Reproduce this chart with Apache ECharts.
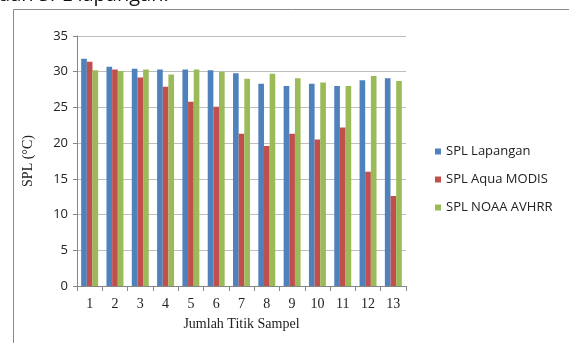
<!DOCTYPE html>
<html>
<head>
<meta charset="utf-8">
<script src="https://cdn.jsdelivr.net/npm/echarts@6/dist/echarts.min.js"></script>
<style>html,body{margin:0;padding:0;background:#fff;}#c{width:569px;height:343px;}</style>
</head>
<body>
<div id="c"></div>
<script>
var categories = ['1','2','3','4','5','6','7','8','9','10','11','12','13'];
var splLapangan = [31.8, 30.7, 30.4, 30.3, 30.3, 30.2, 29.8, 28.3, 28.0, 28.3, 28.0, 28.8, 29.1];
var splAquaModis = [31.4, 30.3, 29.2, 27.9, 25.8, 25.1, 21.3, 19.6, 21.3, 20.5, 22.2, 16.0, 12.6];
var splNoaaAvhrr = [30.2, 30.1, 30.3, 29.6, 30.3, 30.0, 29.0, 29.7, 29.1, 28.5, 28.0, 29.4, 28.7];
var seriesNames = ['SPL Lapangan', 'SPL Aqua MODIS', 'SPL NOAA AVHRR'];
var yTicks = [0, 5, 10, 15, 20, 25, 30, 35];

var chart = echarts.init(document.getElementById('c'), null, {renderer: 'canvas'});
var option = {
  animation: false,
  backgroundColor: '#ffffff',
  color: ['#4F81BD', '#C0504D', '#9BBB59'],
  grid: {left: 77, right: 163, top: 36, bottom: 57, containLabel: false},
  legend: {
    orient: 'vertical', left: 430, top: 140,
    itemWidth: 6, itemHeight: 6, itemGap: 15, icon: 'rect',
    textStyle: {fontFamily: 'Open Sans', fontSize: 13, color: '#222'},
    data: seriesNames
  },
  xAxis: {
    type: 'category', data: categories,
    name: 'Jumlah Titik Sampel', nameLocation: 'middle', nameGap: 31,
    nameTextStyle: {fontFamily: 'Liberation Serif', fontSize: 14, color: '#222'},
    axisLine: {lineStyle: {color: '#868686', width: 1}},
    axisTick: {show: true, inside: false, length: 5, alignWithLabel: false, lineStyle: {color: '#868686'}},
    axisLabel: {fontFamily: 'Liberation Serif', fontSize: 14, color: '#222', margin: 11}
  },
  yAxis: {
    type: 'value', min: yTicks[0], max: yTicks[yTicks.length - 1], interval: 5,
    name: 'SPL (°C)', nameLocation: 'middle', nameGap: 42, nameRotate: 90,
    nameTextStyle: {fontFamily: 'Liberation Serif', fontSize: 14, color: '#222'},
    axisLine: {show: true, lineStyle: {color: '#868686', width: 1}},
    axisTick: {show: true, length: 4, lineStyle: {color: '#868686'}},
    axisLabel: {fontFamily: 'Open Sans', fontSize: 13, color: '#222', margin: 9},
    splitLine: {lineStyle: {color: '#BEBEBE', width: 1}}
  },
  series: [
    {name: seriesNames[0], type: 'bar', data: splLapangan, barGap: '0%', barCategoryGap: '33%'},
    {name: seriesNames[1], type: 'bar', data: splAquaModis, barGap: '0%', barCategoryGap: '33%'},
    {name: seriesNames[2], type: 'bar', data: splNoaaAvhrr, barGap: '0%', barCategoryGap: '33%'}
  ],
  graphic: [
    {type: 'line', shape: {x1: 13.5, y1: 9.5, x2: 569, y2: 9.5}, style: {stroke: '#8a8a8a', lineWidth: 1}},
    {type: 'line', shape: {x1: 13.5, y1: 9.5, x2: 13.5, y2: 343}, style: {stroke: '#8a8a8a', lineWidth: 1}},
    {type: 'text', left: -2, top: -15, style: {text: 'dan SPL lapangan.', font: '20px "Open Sans"', fill: '#111'}}
  ]
};
chart.setOption(option);
</script>
</body>
</html>
